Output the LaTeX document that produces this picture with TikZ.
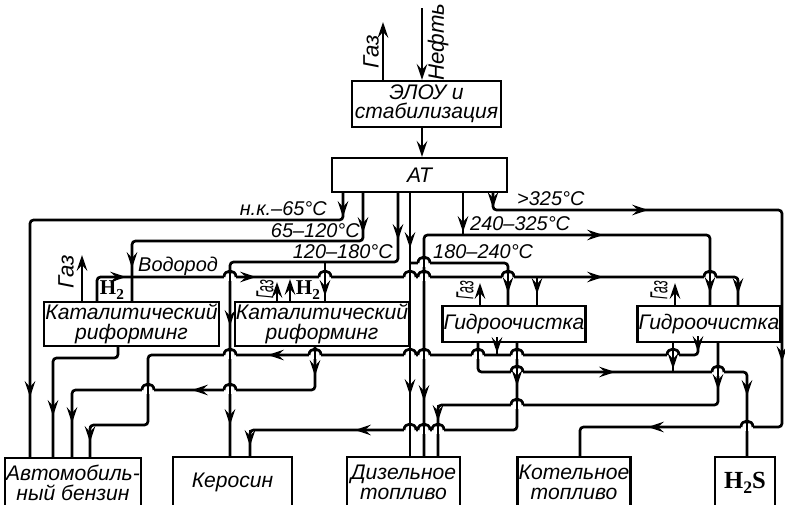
\documentclass[tikz,border=0pt]{standalone}
\usepackage{fontspec}
\usepackage{graphicx}
\setmainfont{Liberation Sans}
\newfontfamily\hfont{Liberation Serif}
\usetikzlibrary{arrows.meta,positioning}

\newcommand{\htwo}[1][13]{{\hfont\bfseries H\raisebox{-0.45ex}{\fontsize{#1}{#1}\selectfont 2}}}
% arrow tips laid over the flow lines
\newcommand{\tipd}[2]{\draw[tip] (#1,#2-16) -- (#1,#2);}
\newcommand{\tipu}[2]{\draw[tip] (#1,#2+16) -- (#1,#2);}
\newcommand{\tipl}[2]{\draw[tip] (#1+16,#2) -- (#1,#2);}
\newcommand{\tipr}[2]{\draw[tip] (#1-16,#2) -- (#1,#2);}
% jump of a horizontal line over a vertical one
\newcommand{\hop}[2]{%
  \fill[white] (#1-6,#2-3.5) rectangle (#1+6,#2+3.5);
  \draw[flow] (#1,#2-7) -- (#1,#2+7);
  \draw[flow] (#1-6,#2) .. controls (#1-6,#2-8) and (#1+6,#2-8) .. (#1+6,#2);}

\begin{document}
\begin{tikzpicture}[x=0.03cm, y=-0.03cm,
    unit/.style={rectangle, draw, line width=2pt, inner sep=1pt, align=center,
        font=\fontsize{18}{16.5}\selectfont\itshape},
    flow/.style={line width=2.3pt, rounded corners=3pt},
    tip/.style={line width=2.3pt, -{Stealth[length=13.5pt, width=9pt, inset=5pt]}},
    frac/.style={font=\fontsize{17}{17}\selectfont\itshape, inner sep=0pt},
    gaz/.style={font=\fontsize{19}{19}\selectfont\itshape, rotate=90, inner sep=0pt},
    gazs/.style={font=\fontsize{21}{21}\selectfont\itshape, rotate=90, inner sep=0pt},
    hlab/.style={font=\fontsize{18}{18}\selectfont, inner sep=0pt}
]
\useasboundingbox (0,0) rectangle (785,505);
\clip (0,0) rectangle (785,505);

% units
\node[unit, minimum width=4.47cm, minimum height=1.38cm] (elou) at (426.5,104) {ЭЛОУ и\\стабилизация};
\node[unit, minimum width=5.25cm, minimum height=1.02cm] (atu) at (419.5,175) {АТ};
\node[unit, minimum width=5.07cm, minimum height=1.32cm] (ref1) at (131.5,324) {Каталитический\\риформинг};
\node[unit, minimum width=4.92cm, minimum height=1.32cm] (ref2) at (322,324) {Каталитический\\риформинг};
\node[unit, minimum width=4.14cm, minimum height=1.08cm] (hyd1) at (514,324) {Гидроочистка};
\node[unit, minimum width=4.08cm, minimum height=1.08cm] (hyd2) at (709,324) {Гидроочистка};

% products
\node[unit, minimum width=3.9cm, minimum height=1.5cm] (avto) at (73,483) {Автомобиль-\\ный бензин};
\node[unit, minimum width=3.57cm, minimum height=1.53cm] (ker) at (232.5,482.5) {Керосин};
\node[unit, minimum width=3.39cm, minimum height=1.53cm] (dies) at (403.5,482.5) {Дизельное\\топливо};
\node[unit, minimum width=3.24cm, minimum height=1.53cm] (kot) at (574,482.5) {Котельное\\топливо};
\node[unit, minimum width=1.8cm, minimum height=1.53cm, font=\fontsize{21}{21}\selectfont] (hs) at (745,482.5) {\htwo[15]{\hfont\bfseries S}};

% crude oil in, gas out
\draw[tip] (422,8) -- (elou.north -| 422,0);
\draw[tip] (elou.north -| 383,0) -- (383,22);
\draw[tip] (elou.south -| 422,0) -- (atu.north -| 422,0);
\node[gaz] (gz0) at (371,52) {Газ};
\node[gaz] (oil) at (438,42) {Нефть};

% fractions from AT
\draw[flow] (atu.south -| 343,0) -- (343,220) -- (30,220) -- (avto.north -| 30,0);
\draw[flow] (atu.south -| 363,0) -- (363,241) -- (132,241) -- (ref1.north -| 132,0);
\draw[flow] (atu.south -| 398,0) -- (398,262) -- (230,262) -- (ker.north -| 230,0);
\draw[flow] (325,262) -- (ref2.north -| 325,0);
\draw[flow] (atu.south -| 410,0) -- (dies.north -| 410,0);
\draw[flow] (410,263) -- (508,263) -- (hyd1.north -| 508,0);
\draw[flow] (atu.south -| 463,0) -- (463,235);
\draw[flow] (dies.north -| 424,0) -- (424,235) -- (710,235) -- (hyd2.north -| 710,0);
\draw[flow] (atu.south -| 493,0) -- (493,210) -- (782,210) -- (782,427) -- (580,427) -- (kot.north -| 580,0);

% hydrogen and gas
\draw[flow] (ref1.north -| 97,0) -- (97,277) -- (738,277) -- (hyd2.north -| 738,0);
\draw[flow] (537,277) -- (hyd1.north -| 537,0);
\draw[tip] (ref1.north -| 82,0) -- (82,255);
\draw[tip] (ref2.north -| 277,0) -- (277,282);
\draw[tip] (ref2.north -| 290,0) -- (290,279);
\draw[tip] (hyd1.north -| 480,0) -- (480,283);
\draw[tip] (hyd2.north -| 675,0) -- (675,283);

% products of the units
\draw[flow] (ref1.south -| 118,0) -- (118,358) -- (53,358) -- (avto.north -| 53,0);
\draw[flow] (ref2.south -| 315,0) -- (315,390) -- (72,390) -- (avto.north -| 72,0);
\draw[flow] (hyd2.south -| 698,0) -- (698,355) -- (148,355) -- (148,425) -- (90,425) -- (avto.north -| 90,0);
\draw[flow] (hyd1.south -| 497,0) -- (497,355);
\draw[flow] (hyd1.south -| 478,0) -- (478,372) -- (747,372) -- (hs.north -| 747,0);
\draw[flow] (hyd2.south -| 673,0) -- (673,372);
\draw[flow] (hyd1.south -| 517,0) -- (517,430) -- (250,430) -- (ker.north -| 250,0);
\draw[flow] (hyd2.south -| 718,0) -- (718,405) -- (438,405) -- (dies.north -| 438,0);

% crossings
\foreach \x/\y in {230/277, 325/277, 410/277, 424/277, 508/277, 710/277, 424/263,
    230/355, 315/355, 410/355, 424/355, 478/355, 517/355, 673/355,
    517/372, 718/372, 148/390, 230/390, 517/405, 747/427, 410/430, 424/430, 438/430}
  {\hop{\x}{\y}}

% arrow tips
\tipd{343}{217} \tipd{30}{397}
\tipd{363}{233} \tipd{132}{268}
\tipd{398}{240} \tipd{230}{326} \tipd{230}{425} \tipd{325}{296}
\tipd{410}{248} \tipd{410}{395} \tipd{508}{293}
\tipd{463}{232} \tipr{603}{235} \tipd{710}{293} \tipd{424}{401}
\tipd{493}{208} \tipr{648}{210} \tipd{782}{362} \tipl{648}{427}
\tipr{126}{277} \tipr{256}{277} \tipr{603}{277} \tipd{738}{294} \tipd{537}{294}
\tipd{53}{416}
\tipd{315}{376} \tipl{192}{390} \tipd{72}{423}
\tipd{698}{352} \tipd{497}{353} \tipl{268}{355} \tipd{90}{442}
\tipr{615}{372} \tipd{747}{396} \tipd{673}{369}
\tipd{517}{386} \tipl{355}{430} \tipd{250}{446}
\tipd{718}{390} \tipd{438}{421}

% labels
\node[frac, anchor=base east] (f1) at (327,215) {н.к.--65°C};
\node[frac, anchor=base east] (f2) at (360,237) {65--120°C};
\node[frac, anchor=base east] (f3) at (393,258) {120--180°C};
\node[frac, anchor=base west] (f4) at (433,258) {180--240°C};
\node[frac, anchor=base west] (f5) at (470,230) {240--325°C};
\node[frac, anchor=base west] (f6) at (517,205) {>325°C};
\node[frac, anchor=base west] (wod) at (138,271) {Водород};

\node[gaz] (gz1) at (66,272) {Газ};
\node[hlab] (hy1) at (112,290) {\htwo};
\node[gazs] (gz2) at (265,289) {\scalebox{0.5}[1]{Газ}};
\node[hlab] (hy2) at (308,290) {\htwo};
\node[gazs] (gz3) at (465,290) {\scalebox{0.5}[1]{Газ}};
\node[gazs] (gz4) at (659,290) {\scalebox{0.5}[1]{Газ}};
\end{tikzpicture}
\end{document}
